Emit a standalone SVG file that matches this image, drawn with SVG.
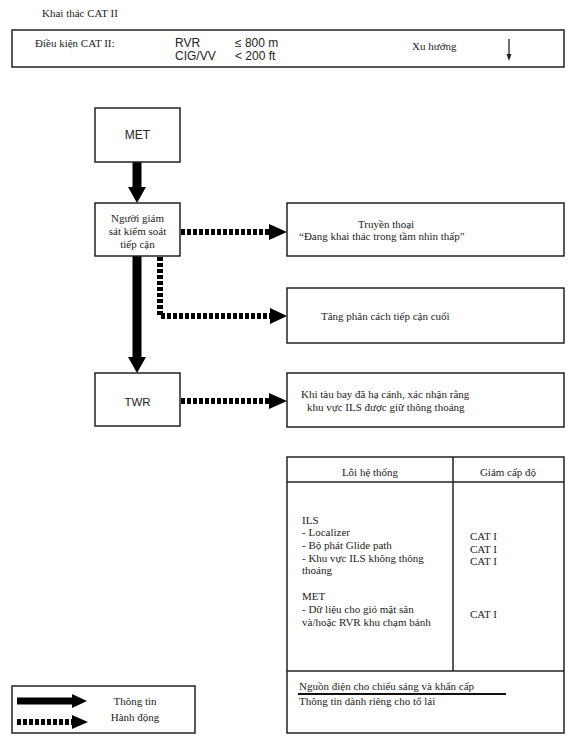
<svg xmlns="http://www.w3.org/2000/svg" width="576" height="751" viewBox="0 0 576 751">
<style>
.box{fill:#fff;stroke:#222;stroke-width:1.5}
.t{font-family:"Liberation Serif","Times New Roman",serif;font-size:11px;fill:#222}
.s{font-family:"Liberation Sans",Arial,sans-serif;fill:#222}
.solid{stroke:#000;stroke-width:9;fill:none}
.dot{stroke:#000;stroke-width:6;stroke-dasharray:4 2;fill:none}
.head{fill:#000}
</style>
<rect width="576" height="751" fill="#fff"/>
<text class="t" x="42" y="17" font-size="11.4">Khai thác CAT II</text>
<g id="conditions">
<rect class="box" x="12" y="30" width="552" height="37"/>
<text class="t" x="35" y="47" font-size="11.5">Điều kiện CAT II:</text>
<text class="s" x="175" y="47" font-size="12">RVR</text>
<text class="s" x="175" y="60" font-size="12">CIG/VV</text>
<text class="s" x="235" y="47" font-size="12">≤ 800 m</text>
<text class="s" x="235" y="60" font-size="12">&lt; 200 ft</text>
<text class="t" x="412" y="50">Xu hướng</text>
<line x1="509" y1="39" x2="509" y2="55" stroke="#222" stroke-width="1.3"/>
<polygon points="506.5,54 511.5,54 509,61" fill="#222"/>
</g>
<g id="connectors">
<line class="solid" x1="137" y1="162" x2="137" y2="188"/>
<polygon class="head" points="128,187 146,187 137,203"/>
<line class="solid" x1="137" y1="256" x2="137" y2="358"/>
<polygon class="head" points="128,357 146,357 137,373"/>
<line class="dot" x1="181" y1="232" x2="270" y2="232"/>
<polygon class="head" points="269,224 269,240 287,232"/>
<polyline class="dot" points="160,257 160,316 271,316"/>
<polygon class="head" points="270,308 270,324 287,316"/>
<line class="dot" x1="181" y1="401" x2="270" y2="401"/>
<polygon class="head" points="269,393 269,409 287,401"/>
</g>
<g id="met">
<rect class="box" x="95" y="108" width="85" height="54"/>
<text class="s" x="137.5" y="139" font-size="12" text-anchor="middle">MET</text>
</g>
<g id="supervisor">
<rect class="box" x="95" y="203" width="85" height="53"/>
<text class="t" x="137.5" y="222" text-anchor="middle">Người giám</text>
<text class="t" x="137.5" y="235" text-anchor="middle">sát kiểm soát</text>
<text class="t" x="137.5" y="248" text-anchor="middle">tiếp cận</text>
</g>
<g id="twr">
<rect class="box" x="95" y="373" width="85" height="53"/>
<text class="s" x="137.5" y="406" font-size="11.5" text-anchor="middle">TWR</text>
</g>
<g id="radio">
<rect class="box" x="287" y="203" width="277" height="53"/>
<text class="t" x="358" y="228" font-size="11.6">Truyền thoại</text>
<text class="t" x="299" y="240" font-size="11.6">“Đang khai thác trong tầm nhìn thấp”</text>
</g>
<g id="separation">
<rect class="box" x="287" y="288" width="277" height="55"/>
<text class="t" x="321" y="320" font-size="11.3">Tăng phân cách tiếp cận cuối</text>
</g>
<g id="landed">
<rect class="box" x="287" y="373" width="277" height="54"/>
<text class="t" x="301" y="398" font-size="11.2">Khi tàu bay đã hạ cánh, xác nhận rằng</text>
<text class="t" x="307" y="411" font-size="11.2">khu vực ILS được giữ thông thoáng</text>
</g>
<g id="table">
<rect class="box" x="287" y="457" width="277" height="276"/>
<line x1="287" y1="482" x2="564" y2="482" stroke="#222" stroke-width="1.5"/>
<line x1="453" y1="457" x2="453" y2="671" stroke="#222" stroke-width="1.5"/>
<line x1="287" y1="671" x2="564" y2="671" stroke="#222" stroke-width="1.5"/>
<text class="t" x="370" y="476" text-anchor="middle" font-size="10">Lỗi hệ thống</text>
<text class="t" x="508" y="476" text-anchor="middle" font-size="10">Giảm cấp độ</text>
<text class="t" x="302" y="524" font-size="12">ILS</text>
<text class="t" x="302" y="536" font-size="12">- Localizer</text>
<text class="t" x="302" y="549" font-size="12">- Bộ phát Glide path</text>
<text class="t" x="302" y="562" font-size="12">- Khu vực ILS không thông</text>
<text class="t" x="302" y="574" font-size="12">thoáng</text>
<text class="t" x="302" y="600" font-size="12">MET</text>
<text class="t" x="302" y="613" font-size="12">- Dữ liệu cho gió mặt sân</text>
<text class="t" x="302" y="626" font-size="12">và/hoặc RVR khu chạm bánh</text>
<text class="t" x="470" y="540" font-size="12">CAT I</text>
<text class="t" x="470" y="553" font-size="12">CAT I</text>
<text class="t" x="470" y="565" font-size="12">CAT I</text>
<text class="t" x="470" y="618" font-size="12">CAT I</text>
<text class="t" x="299" y="690" font-size="11.2">Nguồn điện cho chiếu sáng và khẩn cấp</text>
<line x1="298" y1="694" x2="506" y2="694" stroke="#111" stroke-width="2"/>
<text class="t" x="299" y="705" font-size="11.2">Thông tin dành riêng cho tổ lái</text>
</g>
<g id="legend">
<rect class="box" x="12" y="686" width="183" height="47"/>
<line x1="17" y1="701" x2="73" y2="701" stroke="#000" stroke-width="7"/>
<polygon class="head" points="72,694 72,708 87,701"/>
<line class="dot" x1="17" y1="722" x2="73" y2="722"/>
<polygon class="head" points="72,715 72,729 88,722"/>
<text class="t" x="135" y="705" text-anchor="middle">Thông tin</text>
<text class="t" x="135" y="721" text-anchor="middle">Hành động</text>
</g>
</svg>
